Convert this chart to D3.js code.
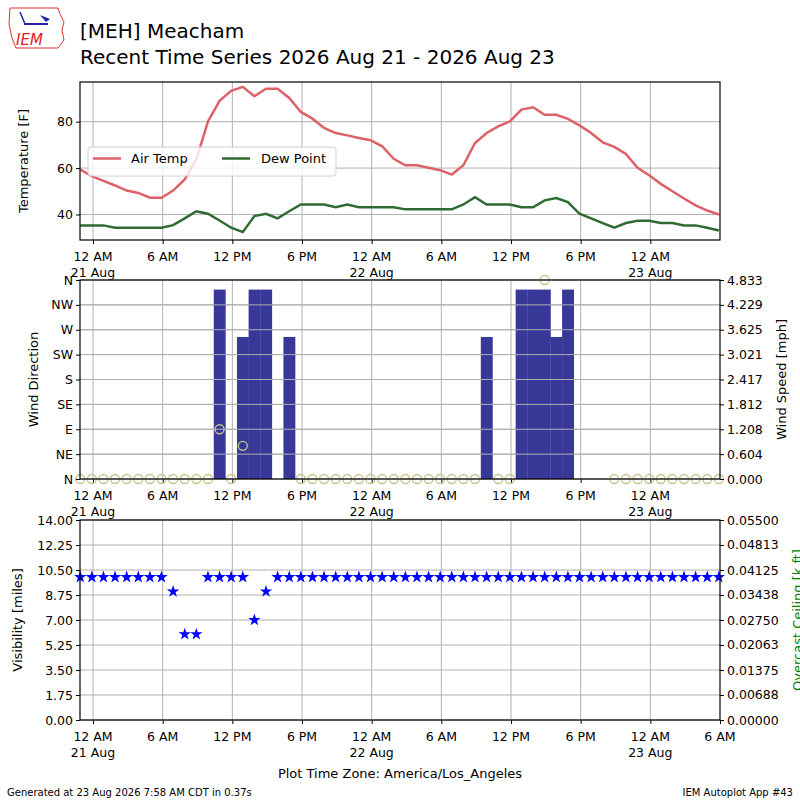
<!DOCTYPE html>
<html><head><meta charset="utf-8">
<script src="https://cdn.jsdelivr.net/npm/d3@7"></script>
<style>body{margin:0;background:#fff}text{font-family:"DejaVu Sans",sans-serif}</style>
</head><body><svg id="c" width="800" height="800"></svg>
<script>
// observation times: hours since 21 Aug 00:00 local (obs at :54)
const obsHours = d3.range(-2, 54).map(k => k + 0.9);
const airTemp = [59.4,56.5,54.5,52.5,50.3,49.3,47.2,47.2,50.3,55.1,63.7,80.1,89,93.3,95,91,94.2,94.2,90.2,84.2,81.3,77.3,75.1,74.1,73,72,69.4,64,61.2,61.2,60.1,59.1,57.2,61.2,70.8,75.1,78,80.1,85.2,86.2,83,83,81.2,78.4,75.1,71.1,69.1,66.1,60.1,56.9,53.2,50,46.9,43.9,41.7,40];
const dewPoint = [35.3,35.3,35.3,34.3,34.3,34.3,34.3,34.3,35.4,38.3,41.4,40.3,37.4,34.3,32.4,39.3,40.3,38.3,41.4,44.3,44.3,44.3,43.1,44.3,43.1,43.1,43.1,43.1,42.2,42.2,42.2,42.2,42.2,44.3,47.4,44.3,44.3,44.3,43.1,43.1,46.1,47.1,45.3,40.3,38.3,36.3,34.3,36.3,37.3,37.3,36.3,36.3,35.3,35.3,34.3,33.1];
// wind: index by obs hour t; null = missing
const windSpeed = {};
const windDir = {};
obsHours.forEach(t => {
  const r = Math.round(t*10)/10;
  if ((r <= 9.9) || r === 11.9 || (r >= 17.9 && r <= 32.9) || r === 34.9 || r === 35.9 || r >= 44.9) { windSpeed[r] = 0; windDir[r] = 0; }
});
const gustBars = [[10.9,4.6,90],[12.9,3.45,60],[13.9,4.6,null],[14.9,4.6,null],[16.9,3.45,null],[33.9,3.45,null],[36.9,4.6,null],[37.9,4.6,null],[38.9,4.6,360],[39.9,3.45,null],[40.9,4.6,null]];
gustBars.forEach(([t,s,d]) => { windSpeed[t] = s; windDir[t] = d; });
const visibility = {6.9:9, 7.9:6, 8.9:6, 13.9:7, 14.9:9};
const visVals = obsHours.map(t => { const r = Math.round(t*10)/10; return [r, visibility[r] !== undefined ? visibility[r] : 10]; });
const dirLabels = ["N","NE","E","SE","S","SW","W","NW","N"];
const speedTicks = [0,0.604,1.208,1.812,2.417,3.021,3.625,4.229,4.833];
const visTicks = [0,1.75,3.5,5.25,7,8.75,10.5,12.25,14];
const ceilTicks = [0,0.00688,0.01375,0.02063,0.0275,0.03438,0.04125,0.04813,0.055];
const tempTicks = [40,60,80];

const svg = d3.select("#c");
const L = 80, R = 720;
const x = d3.scaleLinear().domain([-1.12, 54.0]).range([L, R]);
const grid = "#b0b0b0";
const tickHours = [0,6,12,18,24,30,36,42,48];
function hourLabel(h){ const hh = ((h%24)+24)%24; const s = hh===0?"12 AM":hh===12?"12 PM":(hh<12?hh+" AM":(hh-12)+" PM"); return s; }
function dayLabel(h){ return h%24===0 ? (21 + h/24) + " Aug" : ""; }

function panel(top, bottom, xticks){
  const g = svg.append("g");
  xticks.forEach(h => { if (x(h) > L && x(h) < R) g.append("line").attr("x1",x(h)).attr("x2",x(h)).attr("y1",top).attr("y2",bottom).attr("stroke",grid); });
  const ax = g.append("g").attr("transform",`translate(0,${bottom})`)
    .call(d3.axisBottom(x).tickValues(xticks).tickSize(4).tickFormat(""));
  ax.select(".domain").remove();
  xticks.forEach(h => {
    g.append("text").attr("x",x(h)).attr("y",bottom+21).attr("text-anchor","middle").attr("font-size",12.5).text(hourLabel(h));
    const d = dayLabel(h);
    if (d) g.append("text").attr("x",x(h)).attr("y",bottom+37).attr("text-anchor","middle").attr("font-size",12.5).text(d);
  });
  return g;
}
function frame(top,bottom){ svg.append("rect").attr("x",L).attr("y",top).attr("width",R-L).attr("height",bottom-top).attr("fill","none").attr("stroke","#000").attr("stroke-width",1.2); }
function hgrid(g, ys){ ys.forEach(y => g.append("line").attr("x1",L).attr("x2",R).attr("y1",y).attr("y2",y).attr("stroke",grid)); }

// ---- Panel 1 ----
const t1 = 82, b1 = 240;
const yT = d3.scaleLinear().domain([29.0, 97.1]).range([b1, t1]);
const g1 = panel(t1, b1, tickHours);
hgrid(g1, tempTicks.map(yT));
g1.append("g").attr("transform",`translate(${L},0)`).call(d3.axisLeft(yT).tickValues(tempTicks).tickSize(4))
  .call(a => { a.select(".domain").remove(); a.selectAll("text").attr("font-size",12.5).attr("font-family","DejaVu Sans"); });
svg.append("clipPath").attr("id","cp1").append("rect").attr("x",L).attr("y",t1).attr("width",R-L).attr("height",b1-t1);
const line = d3.line().x((d,i)=>x(obsHours[i])).y(d=>yT(d));
g1.append("path").attr("d",line(airTemp)).attr("fill","none").attr("stroke","#df6168").attr("stroke-width",2.5).attr("clip-path","url(#cp1)");
g1.append("path").attr("d",line(dewPoint)).attr("fill","none").attr("stroke","#2e6b30").attr("stroke-width",2.5).attr("clip-path","url(#cp1)");
frame(t1,b1);
g1.append("text").attr("transform",`translate(28,${(t1+b1)/2}) rotate(-90)`).attr("text-anchor","middle").attr("font-size",13).text("Temperature [F]");
const lg = svg.append("g");
lg.append("rect").attr("x",88).attr("y",147).attr("width",248).attr("height",29).attr("rx",3).attr("fill","rgba(255,255,255,0.8)").attr("stroke","#d0d0d0");
lg.append("line").attr("x1",93).attr("x2",121).attr("y1",158.5).attr("y2",158.5).attr("stroke","#df6168").attr("stroke-width",2.5);
lg.append("text").attr("x",131).attr("y",163).attr("font-size",13).text("Air Temp");
lg.append("line").attr("x1",222).attr("x2",250).attr("y1",158.5).attr("y2",158.5).attr("stroke","#2e6b30").attr("stroke-width",2.5);
lg.append("text").attr("x",261).attr("y",163).attr("font-size",13).text("Dew Point");

// ---- Panel 2 ----
const t2 = 280, b2 = 479;
const yS = d3.scaleLinear().domain([0, 4.833]).range([b2, t2]);
const yD = d3.scaleLinear().domain([0, 360]).range([b2, t2]);
const g2 = panel(t2, b2, tickHours);
hgrid(g2, speedTicks.map(yS));
const keys = Object.keys(windSpeed).map(Number).sort((a,b)=>a-b);
const bw = x(1) - x(0);
keys.forEach(t => { const s = windSpeed[t]; if (s > 0) g2.append("rect").attr("x",x(t)-bw/2).attr("y",yS(s)).attr("width",bw+0.3).attr("height",yS(0)-yS(s)).attr("fill","#373898"); });
hgrid(g2, speedTicks.slice(1,-1).map(yS));
keys.forEach(t => { const d = windDir[t]; if (d !== null && d !== undefined) g2.append("circle").attr("cx",x(t)).attr("cy",yD(d)).attr("r",4.5).attr("fill","none").attr("stroke","#c8c488").attr("stroke-width",1.3); });
g2.append("g").attr("transform",`translate(${L},0)`).call(d3.axisLeft(yD).tickValues(d3.range(0,361,45)).tickSize(4).tickFormat((d,i)=>dirLabels[i]))
  .call(a => { a.select(".domain").remove(); a.selectAll("text").attr("font-size",12.5).attr("font-family","DejaVu Sans"); });
g2.append("g").attr("transform",`translate(${R},0)`).call(d3.axisRight(yS).tickValues(speedTicks).tickSize(4).tickFormat(d3.format(".3f")))
  .call(a => { a.select(".domain").remove(); a.selectAll("text").attr("font-size",12.5).attr("font-family","DejaVu Sans"); });
frame(t2,b2);
g2.append("text").attr("transform",`translate(38,${(t2+b2)/2}) rotate(-90)`).attr("text-anchor","middle").attr("font-size",13).text("Wind Direction");
g2.append("text").attr("transform",`translate(786,${(t2+b2)/2}) rotate(-90)`).attr("text-anchor","middle").attr("font-size",13).text("Wind Speed [mph]");

// ---- Panel 3 ----
const t3 = 520, b3 = 720;
const yV = d3.scaleLinear().domain([0,14]).range([b3,t3]);
const yC = d3.scaleLinear().domain([0,0.055]).range([b3,t3]);
const g3 = panel(t3, b3, tickHours.concat([54]));
hgrid(g3, visTicks.map(yV));
const star = d3.symbol().type(d3.symbolStar).size(48);
visVals.forEach(([t,v]) => { if (x(t) >= L-3) g3.append("path").attr("d",star()).attr("transform",`translate(${x(t)},${yV(v)})`).attr("fill","#0000ff"); });
g3.append("g").attr("transform",`translate(${L},0)`).call(d3.axisLeft(yV).tickValues(visTicks).tickSize(4).tickFormat(d3.format(".2f")))
  .call(a => { a.select(".domain").remove(); a.selectAll("text").attr("font-size",12.5).attr("font-family","DejaVu Sans"); });
g3.append("g").attr("transform",`translate(${R},0)`).call(d3.axisRight(yC).tickValues(ceilTicks).tickSize(4).tickFormat(d3.format(".5f")))
  .call(a => { a.select(".domain").remove(); a.selectAll("text").attr("font-size",12.5).attr("font-family","DejaVu Sans"); });
frame(t3,b3);
g3.append("text").attr("transform",`translate(22,${(t3+b3)/2}) rotate(-90)`).attr("text-anchor","middle").attr("font-size",13).text("Visibility [miles]");
g3.append("text").attr("transform",`translate(802,${(t3+b3)/2}) rotate(-90)`).attr("text-anchor","middle").attr("font-size",13).attr("fill","#008000").text("Overcast Ceiling [k ft]");
svg.append("text").attr("x",400).attr("y",778).attr("text-anchor","middle").attr("font-size",13).text("Plot Time Zone: America/Los_Angeles");

// ---- Titles / footer ----
svg.append("text").attr("x",80).attr("y",38).attr("font-size",20).text("[MEH] Meacham");
svg.append("text").attr("x",80).attr("y",64).attr("font-size",20).text("Recent Time Series 2026 Aug 21 - 2026 Aug 23");
svg.append("text").attr("x",7).attr("y",796).attr("font-size",10).text("Generated at 23 Aug 2026 7:58 AM CDT in 0.37s");
svg.append("text").attr("x",793).attr("y",796).attr("text-anchor","end").attr("font-size",10).text("IEM Autoplot App #43");
const lo = svg.append("g");
lo.append("path").attr("d","M10,8 L58,8 L60,14 L64,22 L62,30 L64,40 L58,48 L54,48 L16,48 L12,38 L9,24 Z").attr("fill","none").attr("stroke","#d33").attr("stroke-width",1);
lo.append("line").attr("x1",24).attr("x2",48).attr("y1",24).attr("y2",24).attr("stroke","#22a").attr("stroke-width",2);
lo.append("line").attr("x1",20).attr("x2",25).attr("y1",12).attr("y2",24).attr("stroke","#22a").attr("stroke-width",1.5);
lo.append("path").attr("d","M40,15 L50,19 L46,22 Z").attr("fill","#22a");
lo.append("text").attr("x",16).attr("y",45).attr("font-size",15).attr("font-style","italic").attr("font-family","Liberation Serif").attr("fill","#d22").text("IEM");
</script></body></html>
